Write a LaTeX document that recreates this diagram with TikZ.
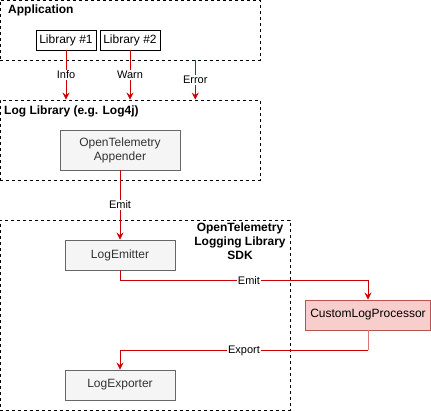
\documentclass[tikz,border=0pt]{standalone}
\usepackage{fontspec}
\setmainfont{Liberation Sans}
\usetikzlibrary{arrows.meta,positioning,calc}

\definecolor{edgered}{HTML}{CC0000}
\definecolor{palered}{HTML}{E07474}
\definecolor{grayfill}{HTML}{F5F5F5}
\definecolor{grayline}{HTML}{666666}
\definecolor{graytext}{HTML}{333333}
\definecolor{procfill}{HTML}{F8CECC}
\definecolor{procline}{HTML}{B85450}

\tikzset{
  group/.style={draw, dash pattern=on 3pt off 3pt, line width=0.9pt, inner sep=0pt},
  libbox/.style={draw, fill=white, line width=0.9pt, minimum width=60pt, minimum height=20pt, inner sep=0pt, font=\fontsize{12}{14}\selectfont},
  sdkbox/.style={draw=grayline, fill=grayfill, text=graytext, line width=0.9pt, minimum width=110pt, minimum height=30pt, inner sep=0pt, align=center, font=\fontsize{12}{14}\selectfont},
  procbox/.style={draw=procline, fill=procfill, line width=0.9pt, minimum width=125pt, minimum height=30pt, inner sep=0pt, font=\fontsize{12}{14}\selectfont},
  title/.style={font=\bfseries\fontsize{12}{14}\selectfont, inner sep=0pt, align=center},
  arr/.style={draw=edgered, line width=0.9pt, -{Stealth[length=7pt,width=7pt,inset=2.5pt]}},
  lbl/.style={fill=white, inner sep=1pt, font=\fontsize{11}{13}\selectfont}
}

\begin{document}
\begin{tikzpicture}[x=1pt,y=-1pt]
\useasboundingbox (0,0) rectangle (431,411);

% groups
\node[group, minimum width=260pt, minimum height=60pt] (app) at (130,30) {};
\node[group, minimum width=260pt, minimum height=80pt] (loglib) at (130,140) {};
\node[group, minimum width=290pt, minimum height=190pt] (sdk) at (145,315) {};

\node[title, anchor=north west] (apptitle) at (8,5) {Application};
\node[title, anchor=north west] (logtitle) at (4,106) {Log Library (e.g. Log4j)};
\node[title, anchor=north] (sdktitle) at (240,223) {OpenTelemetry\\Logging Library\\SDK};

% boxes
\node[libbox] (lib1) at (66,40) {Library \#1};
\node[libbox] (lib2) at (130,40) {Library \#2};
\node[sdkbox, minimum width=120pt, minimum height=40pt] (appender) at (120,150) {OpenTelemetry\\Appender};
\node[sdkbox] (emitter) at (120,255) {LogEmitter};
\node[procbox] (proc) at (368,315) {CustomLogProcessor};
\node[sdkbox] (exporter) at (120,385) {LogExporter};

% edges
\draw[arr] (lib1.south) -- node[lbl] {Info} (lib1.south |- loglib.north);
\draw[arr] (lib2.south) -- node[lbl] {Warn} (lib2.south |- loglib.north);
\coordinate (errtop) at ($(app.south west)!0.75!(app.south east)$);
\draw[arr] (errtop) -- node[lbl] {Error} (errtop |- loglib.north);

\draw[arr] (appender.south) -- node[lbl] {Emit} (emitter.north);
\draw[arr] (emitter.south) -- ++(0,10) -| node[lbl, pos=0.26] {Emit} (proc.north);

\coordinate (expbend) at ($(proc.south)+(0,20)$);
\draw[draw=palered, line width=0.9pt] (proc.south) -- (expbend);
\draw[arr] (expbend) -| node[lbl, pos=0.25] {Export} (exporter.north);

\end{tikzpicture}
\end{document}
